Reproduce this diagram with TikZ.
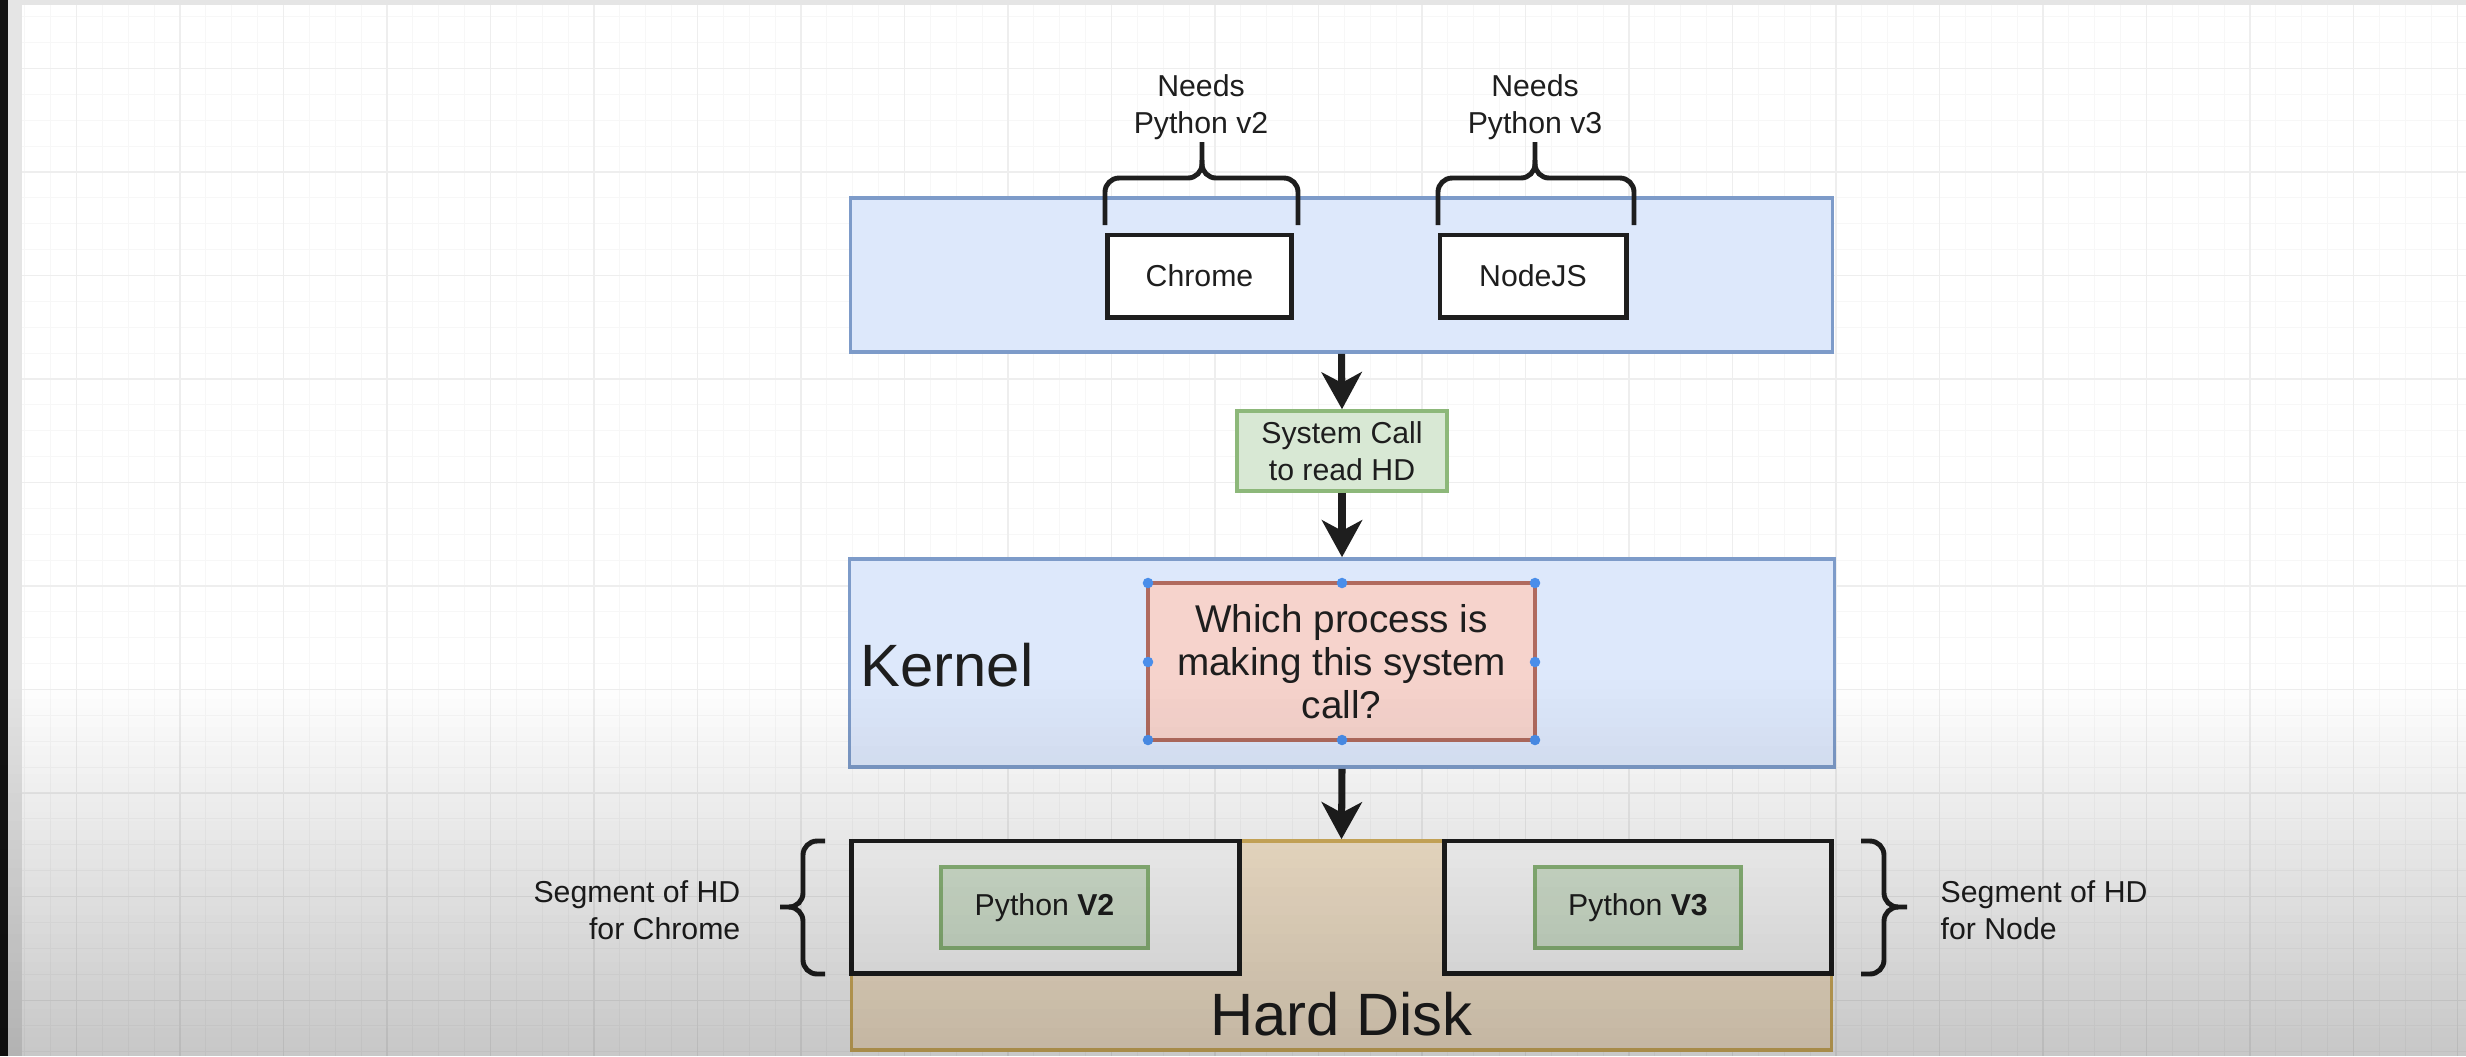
\documentclass[tikz,border=0pt]{standalone}
\usepackage{fontspec}
\setmainfont{Liberation Sans}
\usetikzlibrary{arrows.meta}
\definecolor{ink}{HTML}{1E1E1E}
\definecolor{bluefill}{HTML}{DDE8FB}
\definecolor{bluestroke}{HTML}{7D9BC9}
\definecolor{greenfill}{HTML}{D8E8D4}
\definecolor{greenstroke}{HTML}{8DB87A}
\definecolor{redfill}{HTML}{F6D3CC}
\definecolor{redstroke}{HTML}{B06A5E}
\definecolor{diskfill}{HTML}{FAE9D0}
\definecolor{diskstroke}{HTML}{D6B25E}
\definecolor{handle}{HTML}{4A8EEA}
\definecolor{gridminor}{HTML}{F7F7F7}
\definecolor{gridmajor}{HTML}{EEEEEE}
\tikzset{
  lbl/.style={font=\fontsize{8.6}{10.4}\selectfont,text=ink,inner sep=0pt},
  bigtext/.style={font=\fontsize{17}{20}\selectfont,text=ink,inner sep=0pt},
  layer/.style={draw=bluestroke,fill=bluefill,line width=1pt},
  prog/.style={draw=ink,fill=white,line width=1.4pt,lbl},
  green/.style={draw=greenstroke,fill=greenfill,line width=1pt,lbl},
  flow/.style={-{Stealth[length=10.5pt,width=11.4pt,inset=3pt]},line width=2pt,draw=ink},
  brace/.style={draw=ink,line width=1.4pt,rounded corners=4pt},
}
\begin{document}
\begin{tikzpicture}[x=0.01cm,y=-0.01cm]
  \useasboundingbox (0,0) rectangle (2466,1056);
  \fill[white] (0,0) rectangle (2466,1056);
  % grid of the editor
  \foreach \gx in {24.75,50.625,...,2466} \draw[gridminor,line width=0.3pt] (\gx,5) -- (\gx,1056);
  \foreach \gy in {16.75,42.625,...,1056} \draw[gridminor,line width=0.3pt] (22,\gy) -- (2466,\gy);
  \foreach \gx in {76.5,180,...,2466} \draw[gridmajor,line width=0.3pt] (\gx,5) -- (\gx,1056);
  \foreach \gy in {68.5,172,...,1056} \draw[gridmajor,line width=0.3pt] (22,\gy) -- (2466,\gy);
  \fill[black!92] (0,0) rectangle (8,1056);
  \fill[black!10] (8,0) rectangle (22,1056);
  \fill[black!10] (8,0) rectangle (2466,5);

  % user space
  \node[layer,minimum width=9.81cm,minimum height=1.54cm] (apps) at (1341.5,275) {};
  \node[prog,minimum width=1.83cm,minimum height=0.82cm] (chrome) at (1199.5,276) {Chrome};
  \node[prog,minimum width=1.86cm,minimum height=0.82cm] (nodejs) at (1533,276) {NodeJS};
  \draw[brace] (1105,225) |- (1202,178) -- (1202,142);
  \draw[brace] (1298,225) |- (1202,178) -- (1202,160);
  \draw[brace] (1438,225) |- (1535,178) -- (1535,142);
  \draw[brace] (1634,225) |- (1535,178) -- (1535,160);
  \node[lbl,align=center] (needstwo) at (1201,107) {Needs\\Python v2};
  \node[lbl,align=center] (needsthree) at (1535,107) {Needs\\Python v3};

  % system call
  \node[green,align=center,minimum width=2.10cm,minimum height=0.80cm] (syscall) at (1342,451) {System Call\\to read HD};
  \draw[flow] (apps.south) -- (syscall.north);

  % kernel
  \node[layer,minimum width=9.84cm,minimum height=2.08cm] (kernel) at (1342,663) {};
  \node[bigtext,anchor=west] (kernellbl) at (860,665) {Kernel};
  \node[draw=redstroke,fill=redfill,line width=1pt,align=center,text=ink,
        font=\fontsize{11}{12.3}\selectfont,minimum width=3.87cm,minimum height=1.57cm] (which) at (1341.5,661.5)
        {Which process is\\making this system\\call?};
  \foreach \hx/\hy in {1148/583,1342/583,1535/583,1148/662,1535/662,1148/740,1342/740,1535/740}
    \fill[handle] (\hx,\hy) circle[radius=1.5pt];
  \draw[flow] (syscall.south) -- (kernel.north);

  % hard disk
  \node[draw=diskstroke,fill=diskfill,line width=1pt,minimum width=9.79cm,minimum height=2.09cm] (disk) at (1341.5,945.5) {};
  \node[prog,minimum width=3.87cm,minimum height=1.32cm] (segchrome) at (1045.5,907) {};
  \node[prog,minimum width=3.86cm,minimum height=1.32cm] (segnode) at (1638,907) {};
  \node[green,minimum width=2.07cm,minimum height=0.81cm] (pytwo) at (1044.5,907.5) {Python \textbf{V2}};
  \node[green,minimum width=2.06cm,minimum height=0.81cm] (pythree) at (1638,907.5) {Python \textbf{V3}};
  \node[bigtext] (disklbl) at (1341.5,1014) {Hard Disk};
  \draw[flow] (kernel.south) -- (disk.north);

  \draw[brace] (825,841) -| (803,907) -- (780,907);
  \draw[brace] (825,974) -| (803,907) -- (792,907);
  \draw[brace] (1861,841) -| (1884,907) -- (1907,907);
  \draw[brace] (1861,974) -| (1884,907) -- (1896,907);
  \node[lbl,align=right,anchor=east] (segleft) at (741,910) {Segment of HD\\for Chrome};
  \node[lbl,align=left,anchor=west] (segright) at (1940,910) {Segment of HD\\for Node};

  % darker bottom of the video frame
  \foreach \i [evaluate=\i as \op using 0.0055*(\i+0.5)] in {0,...,39}
    \fill[black,fill opacity=\op] (0,{680+\i*9.4}) rectangle (2466,{680+(\i+1)*9.4});
\end{tikzpicture}
\end{document}
